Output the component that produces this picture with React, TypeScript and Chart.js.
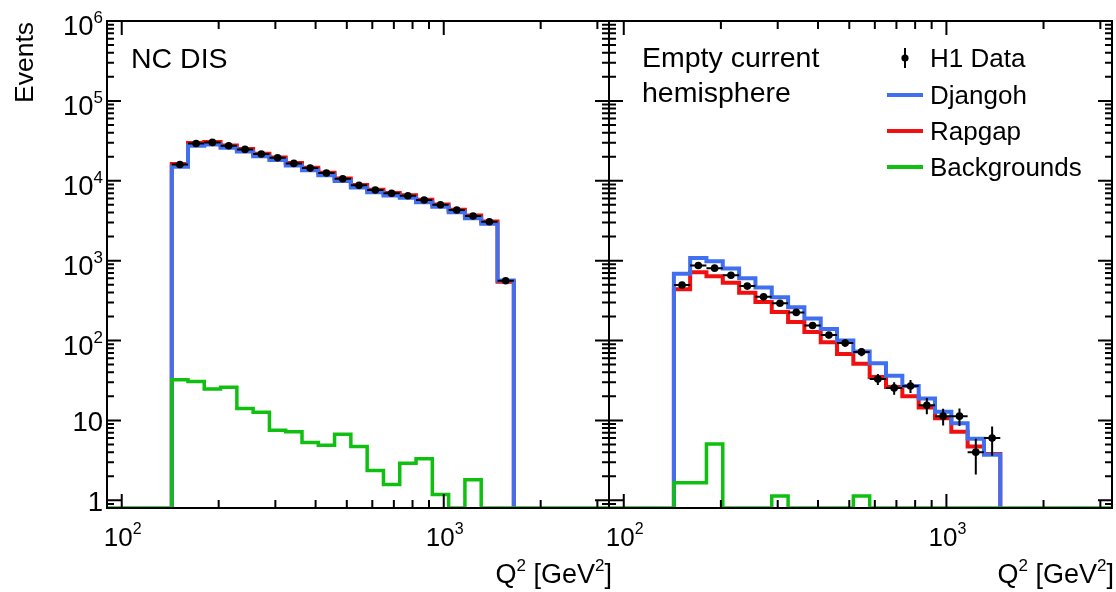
import React, { useEffect, useRef } from 'react';
import { Chart, registerables } from 'chart.js';

Chart.register(...registerables);

// ---------------- data ----------------
// Q^2 bin edges [GeV^2]
const BIN_EDGES = [143, 160.6, 180.4, 202.7, 227.8, 255.9, 287.5, 323.1, 362.9, 407.8, 458.1, 514.7, 578.3, 649.8, 730.1, 820.4, 921.6, 1035.6, 1163.5, 1307.3, 1468.9, 1650.5];

// NC DIS panel (21 bins)
const NC_DATA = [16000, 29300, 30200, 27400, 24700, 21600, 19400, 16500, 14400, 12500, 10600, 8760, 7650, 6960, 6500, 5740, 5010, 4300, 3620, 3070, 560];
const NC_DATA_ERR = [127, 171, 174, 166, 157, 147, 139, 128, 120, 112, 103, 94, 87, 83, 81, 76, 71, 66, 60, 55, 24];
const NC_DJANGOH = [15000, 27500, 28400, 25800, 23200, 20300, 18200, 15500, 13500, 11700, 9950, 8230, 7190, 6540, 6110, 5400, 4710, 4040, 3400, 2890, 565];
const NC_RAPGAP = [16200, 29600, 30500, 27700, 24900, 21800, 19600, 16700, 14600, 12600, 10700, 8850, 7730, 7030, 6570, 5800, 5060, 4340, 3660, 3100, 545];
const NC_BACKGROUNDS = [32.3, 30.7, 24.7, 25.9, 14.1, 12.6, 7.5, 7.2, 5.3, 4.9, 6.7, 4.7, 2.35, 1.57, 2.9, 3.3, 1.18, 0, 1.8, 0, 0];

// Empty current hemisphere panel (20 bins)
const ECH_DATA = [495, 870, 805, 655, 480, 352, 293, 225, 154, 117, 93, 72, 33, 25.5, 27, 15.5, 11.3, 11.3, 4.0, 6.0];
const ECH_DATA_ERR = [22, 30, 28, 26, 22, 19, 17, 15, 12.5, 11, 9.6, 8.5, 5.2, 4.5, 5, 3.6, 2.7, 2.8, 1.9, 2.4];
const ECH_DJANGOH = [684, 1080, 982, 796, 603, 462, 347, 261, 189, 139, 100, 72.6, 52, 36.2, 27, 18.8, 12.8, 9.2, 5.9, 3.7];
const ECH_RAPGAP = [437, 716, 638, 528, 397, 304, 228, 171, 128, 95, 68, 51, 35, 26.2, 20, 14.5, 10.6, 7.2, 4.7, 3.8];
const ECH_BACKGROUNDS = [1.66, 1.66, 5.05, 0, 0, 0, 1.13, 0, 0, 0, 0, 1.13, 0, 0, 0, 0, 0, 0, 0, 0];

// axes
const X_MIN = 90;
const X_MAX = 3260;
const Y_MIN = 0.8;
const Y_MAX = 1e6;
const X_TICK_VALUES = [100, 1000];
const X_TICK_EXPONENTS = ['2', '3'];
const X_MINOR_VALUES = [200, 300, 400, 500, 600, 700, 800, 900, 2000, 3000];
const Y_TICK_VALUES = [1, 10, 100, 1000, 10000, 100000, 1000000];
const Y_TICK_BASES = ['1', '10', '10', '10', '10', '10', '10'];
const Y_TICK_EXPONENTS = ['', '', '2', '3', '4', '5', '6'];
const Y_MINOR_MULTIPLIERS = [2, 3, 4, 5, 6, 7, 8, 9];

const LEGEND_LABELS = ['H1 Data', 'Djangoh', 'Rapgap', 'Backgrounds'];
const COLOR_DJANGOH = '#4070f0';
const COLOR_RAPGAP = '#f01010';
const COLOR_BKG = '#10c010';

const FONT_FAMILY = '"Liberation Sans", Arial, Helvetica, sans-serif';
const font = (px: number) => `${px}px ${FONT_FAMILY}`;

// ---------------- helpers ----------------
function histPoints(values: number[], extendToFrame: boolean) {
  const pts: { x: number; y: number }[] = [];
  if (extendToFrame) pts.push({ x: X_MIN, y: Y_MIN });
  pts.push({ x: BIN_EDGES[0], y: Y_MIN });
  for (let i = 0; i < values.length; i++) {
    const v = values[i] > 0 ? values[i] : Y_MIN;
    pts.push({ x: BIN_EDGES[i], y: v });
    pts.push({ x: BIN_EDGES[i + 1], y: v });
  }
  pts.push({ x: BIN_EDGES[values.length], y: Y_MIN });
  if (extendToFrame) pts.push({ x: X_MAX, y: Y_MIN });
  return pts;
}

function binCenter(i: number) {
  return Math.sqrt(BIN_EDGES[i] * BIN_EDGES[i + 1]);
}

function drawSup(ctx: CanvasRenderingContext2D, base: string, exp: string, x: number, y: number,
  align: 'left' | 'center' | 'right', size = 26, supSize = 16, raise = 12) {
  ctx.font = font(size);
  const wb = ctx.measureText(base).width;
  ctx.font = font(supSize);
  const we = exp ? ctx.measureText(exp).width : 0;
  const total = wb + we;
  const x0 = align === 'left' ? x : align === 'center' ? x - total / 2 : x - total;
  ctx.textAlign = 'left';
  ctx.textBaseline = 'alphabetic';
  ctx.fillStyle = '#000';
  ctx.font = font(size);
  ctx.fillText(base, x0, y);
  if (exp) {
    ctx.font = font(supSize);
    ctx.fillText(exp, x0 + wb, y - raise);
  }
  return total;
}

function drawXTitle(ctx: CanvasRenderingContext2D, rightX: number, baseline: number) {
  const parts: [string, boolean][] = [['Q', false], ['2', true], [' [GeV', false], ['2', true], [']', false]];
  let total = 0;
  for (const [t, sup] of parts) {
    ctx.font = font(sup ? 17 : 27);
    total += ctx.measureText(t).width;
  }
  let x = rightX - total;
  ctx.textAlign = 'left';
  ctx.textBaseline = 'alphabetic';
  ctx.fillStyle = '#000';
  for (const [t, sup] of parts) {
    ctx.font = font(sup ? 17 : 27);
    ctx.fillText(t, x, sup ? baseline - 12 : baseline);
    x += ctx.measureText(t).width;
  }
}

type PanelCfg = {
  data: number[];
  err: number[];
  showYLabels: boolean;
  titleRight: number;
  offsetX: number; // page x of the canvas
  texts: { text: string; x: number; y: number }[];
  legend: boolean;
};

function makePlugin(cfg: PanelCfg) {
  return {
    id: 'h1panel',
    afterDatasetsDraw(chart: any) {
      const ctx: CanvasRenderingContext2D = chart.ctx;
      const a = chart.chartArea;
      const xs = chart.scales.x;
      const ys = chart.scales.y;
      ctx.save();

      // error bars
      ctx.strokeStyle = '#000';
      ctx.lineWidth = 2;
      ctx.lineCap = 'butt';
      for (let i = 0; i < cfg.data.length; i++) {
        const cx = xs.getPixelForValue(binCenter(i));
        const cy = ys.getPixelForValue(cfg.data[i]);
        const x1 = xs.getPixelForValue(BIN_EDGES[i]);
        const x2 = xs.getPixelForValue(BIN_EDGES[i + 1]);
        const lo = ys.getPixelForValue(Math.max(cfg.data[i] - cfg.err[i], Y_MIN));
        const hi = ys.getPixelForValue(cfg.data[i] + cfg.err[i]);
        ctx.beginPath();
        ctx.moveTo(x1, cy); ctx.lineTo(x2, cy);
        ctx.moveTo(cx, lo); ctx.lineTo(cx, hi);
        ctx.stroke();
      }

      // frame
      ctx.strokeStyle = '#000';
      ctx.lineWidth = 2;
      ctx.strokeRect(a.left, a.top, a.right - a.left, a.bottom - a.top);

      // ticks
      ctx.beginPath();
      const xTick = (v: number, len: number) => {
        if (v < X_MIN || v > X_MAX) return;
        const px = xs.getPixelForValue(v);
        ctx.moveTo(px, a.bottom); ctx.lineTo(px, a.bottom - len);
        ctx.moveTo(px, a.top); ctx.lineTo(px, a.top + len);
      };
      X_TICK_VALUES.forEach((v) => xTick(v, 14));
      X_MINOR_VALUES.forEach((v) => xTick(v, 8));
      const yTick = (v: number, len: number) => {
        if (v < Y_MIN || v > Y_MAX) return;
        const py = ys.getPixelForValue(v);
        ctx.moveTo(a.left, py); ctx.lineTo(a.left + len, py);
        ctx.moveTo(a.right, py); ctx.lineTo(a.right - len, py);
      };
      Y_TICK_VALUES.forEach((v) => yTick(v, 14));
      yTick(0.9, 7);
      Y_TICK_VALUES.slice(0, -1).forEach((dec) => Y_MINOR_MULTIPLIERS.forEach((m) => yTick(dec * m, 7)));
      ctx.stroke();

      // x tick labels
      X_TICK_VALUES.forEach((v, i) => {
        drawSup(ctx, '10', X_TICK_EXPONENTS[i], xs.getPixelForValue(v) + 1, 546, 'center', 26, 16, 12);
      });

      // y tick labels + y title
      if (cfg.showYLabels) {
        Y_TICK_VALUES.forEach((v, i) => {
          const py = ys.getPixelForValue(v);
          const exp = Y_TICK_EXPONENTS[i];
          drawSup(ctx, Y_TICK_BASES[i], exp, 103, py + (exp ? 14 : 11), 'right', 27.5, 17, 12);
        });
        ctx.save();
        ctx.translate(33, 22);
        ctx.rotate(-Math.PI / 2);
        ctx.font = font(26.5);
        ctx.fillStyle = '#000';
        ctx.textAlign = 'right';
        ctx.textBaseline = 'alphabetic';
        ctx.fillText('Events', 0, 0);
        ctx.restore();
      }

      // page-coordinate decorations
      ctx.translate(-cfg.offsetX, 0);

      // x title
      drawXTitle(ctx, cfg.titleRight, 583);

      // panel texts
      ctx.font = font(28.5);
      ctx.fillStyle = '#000';
      ctx.textAlign = 'left';
      ctx.textBaseline = 'alphabetic';
      cfg.texts.forEach((t) => ctx.fillText(t.text, t.x, t.y));

      // legend
      if (cfg.legend) {
        const rowsY = [58, 95, 131, 167];
        ctx.strokeStyle = '#000';
        ctx.lineWidth = 2;
        ctx.beginPath();
        ctx.moveTo(905, rowsY[0] - 10); ctx.lineTo(905, rowsY[0] + 10);
        ctx.stroke();
        ctx.fillStyle = '#000';
        ctx.beginPath();
        ctx.arc(905, rowsY[0], 3.6, 0, Math.PI * 2);
        ctx.fill();
        const cols = [COLOR_DJANGOH, COLOR_RAPGAP, COLOR_BKG];
        cols.forEach((c, i) => {
          ctx.strokeStyle = c;
          ctx.lineWidth = 4;
          ctx.beginPath();
          ctx.moveTo(887, rowsY[i + 1]); ctx.lineTo(923, rowsY[i + 1]);
          ctx.stroke();
        });
        ctx.font = font(26);
        ctx.fillStyle = '#000';
        LEGEND_LABELS.forEach((l, i) => ctx.fillText(l, 930, rowsY[i] + 9));
      }
      ctx.restore();
    },
  };
}

function makeChart(canvas: HTMLCanvasElement, djangoh: number[], rapgap: number[], bkg: number[],
  cfg: PanelCfg, padding: { left: number; right: number; top: number; bottom: number }) {
  const dataPts = cfg.data.map((v, i) => ({ x: binCenter(i), y: v }));
  const histStyle = { pointRadius: 0, tension: 0, fill: false, borderJoinStyle: 'miter', borderCapStyle: 'butt' };
  return new Chart(canvas, {
    type: 'line',
    data: {
      datasets: [
        { label: LEGEND_LABELS[0], data: dataPts, showLine: false, pointRadius: 3.8, pointBorderWidth: 0,
          pointBackgroundColor: '#000', borderColor: '#000', backgroundColor: '#000' },
        { label: LEGEND_LABELS[3], data: histPoints(bkg, true), borderColor: COLOR_BKG, borderWidth: 3.5, ...histStyle },
        { label: LEGEND_LABELS[1], data: histPoints(djangoh, false), borderColor: COLOR_DJANGOH, borderWidth: 4, ...histStyle },
        { label: LEGEND_LABELS[2], data: histPoints(rapgap, false), borderColor: COLOR_RAPGAP, borderWidth: 4, ...histStyle },
      ] as any,
    },
    options: {
      animation: false,
      responsive: false,
      devicePixelRatio: 1,
      events: [],
      layout: { padding },
      plugins: { legend: { display: false }, tooltip: { enabled: false } },
      scales: {
        x: { type: 'logarithmic', min: X_MIN, max: X_MAX, display: false },
        y: { type: 'logarithmic', min: Y_MIN, max: Y_MAX, display: false },
      },
    } as any,
    plugins: [makePlugin(cfg)],
  });
}

const LEFT_CANVAS_X = 0;
const RIGHT_CANVAS_X = 596;

export default function App() {
  const leftRef = useRef<HTMLCanvasElement>(null);
  const rightRef = useRef<HTMLCanvasElement>(null);

  useEffect(() => {
    const left = makeChart(leftRef.current!, NC_DJANGOH, NC_RAPGAP, NC_BACKGROUNDS, {
      data: NC_DATA, err: NC_DATA_ERR, showYLabels: true, titleRight: 612, offsetX: LEFT_CANVAS_X,
      texts: [{ text: 'NC DIS', x: 131, y: 68 }], legend: false,
    }, { left: 107, right: 13, top: 21, bottom: 84 });
    const right = makeChart(rightRef.current!, ECH_DJANGOH, ECH_RAPGAP, ECH_BACKGROUNDS, {
      data: ECH_DATA, err: ECH_DATA_ERR, showYLabels: false, titleRight: 1114, offsetX: RIGHT_CANVAS_X,
      texts: [{ text: 'Empty current', x: 642, y: 67 }, { text: 'hemisphere', x: 642, y: 102 }], legend: true,
    }, { left: 13, right: 3, top: 21, bottom: 84 });
    return () => { left.destroy(); right.destroy(); };
  }, []);

  return (
    <div style={{ position: 'absolute', left: 0, top: 0, width: 1116, height: 592, background: '#fff' }}>
      <canvas ref={leftRef} width={622} height={592}
        style={{ position: 'absolute', left: LEFT_CANVAS_X, top: 0, width: 622, height: 592 }} />
      <canvas ref={rightRef} width={520} height={592}
        style={{ position: 'absolute', left: RIGHT_CANVAS_X, top: 0, width: 520, height: 592 }} />
    </div>
  );
}
